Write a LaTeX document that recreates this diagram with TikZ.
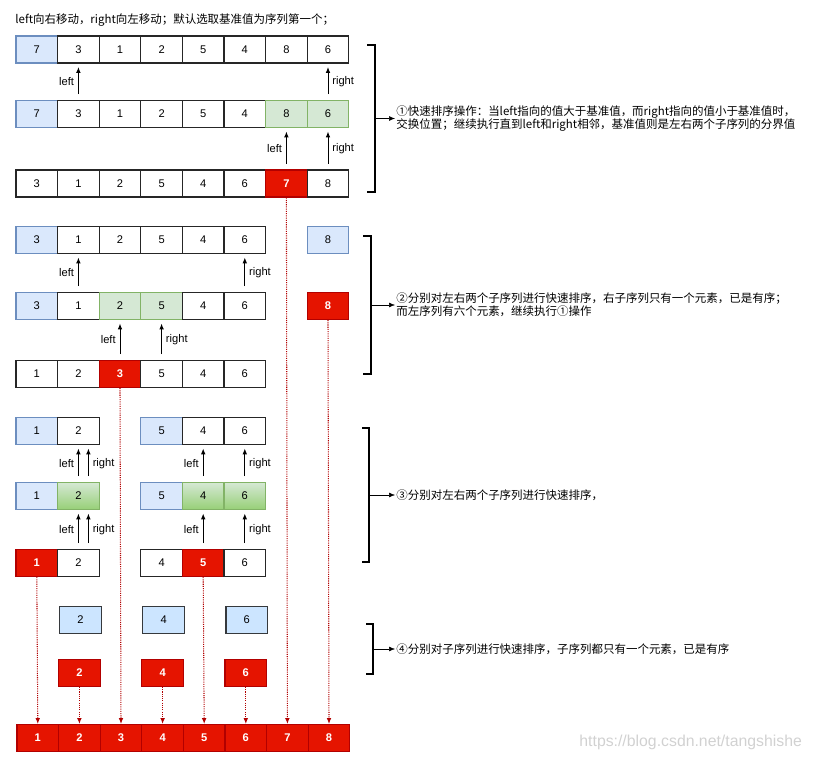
\documentclass[tikz,border=0pt]{standalone}
\usepackage{fontspec}
\usetikzlibrary{arrows.meta}
\setmainfont{Liberation Sans}
\newfontfamily\cjk{Noto Sans CJK SC}
\definecolor{pivotfill}{HTML}{DAE8FC}
\definecolor{pivotline}{HTML}{6C8EBF}
\definecolor{swapfill}{HTML}{D5E8D4}
\definecolor{swapline}{HTML}{82B366}
\definecolor{swapdark}{HTML}{97D077}
\definecolor{donefill}{HTML}{E51400}
\definecolor{doneline}{HTML}{B20000}
\definecolor{leaffill}{HTML}{CCE5FF}
\definecolor{leafline}{HTML}{36393D}
\tikzset{
  cell/.style={draw=black!85, line width=0.9pt, minimum width=1.248cm, minimum height=0.81cm, inner sep=0pt, font=\fontsize{9.5}{11}\selectfont},
  pivot/.style={cell, draw=pivotline, fill=pivotfill},
  swapc/.style={cell, draw=swapline, fill=swapfill},
  swapg/.style={cell, draw=swapline, top color=swapfill, bottom color=swapdark},
  done/.style={cell, draw=doneline, fill=donefill, text=white, font=\fontsize{9.5}{11}\selectfont\bfseries},
  leaf/.style={cell, draw=leafline, fill=leaffill},
  ptr/.style={->, line width=0.8pt, shorten <=5pt, shorten >=3pt},
  fall/.style={->, doneline, densely dotted, line width=0.9pt},
  brace/.style={line width=1pt},
  note/.style={anchor=west, inner sep=1pt, align=left, font=\cjk\fontsize{9.8}{11}\selectfont},
  lbl/.style={font=\fontsize{9.5}{11}\selectfont}
}
\begin{document}
\begin{tikzpicture}[>={Latex[length=5pt,width=4pt]}, x=0.03cm, y=-0.03cm]
\useasboundingbox (0,0) rectangle (815,760);
\node[note] (title) at (14,20) {left向右移动，right向左移动；默认选取基准值为序列第一个；};

% step 1: whole sequence
\foreach \v/\s [count=\i] in {7/pivot,3/cell,1/cell,2/cell,5/cell,4/cell,8/cell,6/cell}
  \node[\s] (a\i) at (41.6*\i-4.8,49.5) {\v};
\foreach \v/\s [count=\i] in {7/pivot,3/cell,1/cell,2/cell,5/cell,4/cell,8/swapc,6/swapc}
  \node[\s] (b\i) at (41.6*\i-4.8,114) {\v};
\foreach \v/\s [count=\i] in {3/cell,1/cell,2/cell,5/cell,4/cell,6/cell,7/done,8/cell}
  \node[\s] (c\i) at (41.6*\i-4.8,183.5) {\v};
\draw[ptr] (b2.north) -- (a2.south) node[midway,left,lbl]{left};
\draw[ptr] (b8.north) -- (a8.south) node[midway,right,lbl]{right};
\draw[ptr] (c7.north) -- (b7.south) node[midway,left,lbl]{left};
\draw[ptr] (c8.north) -- (b8.south) node[midway,right,lbl]{right};

% step 2: two sub-sequences
\foreach \i/\v/\s in {1/3/pivot,2/1/cell,3/2/cell,4/5/cell,5/4/cell,6/6/cell,8/8/pivot}
  \node[\s] (d\i) at (41.6*\i-4.8,240) {\v};
\foreach \i/\v/\s in {1/3/pivot,2/1/cell,3/2/swapc,4/5/swapc,5/4/cell,6/6/cell,8/8/done}
  \node[\s] (e\i) at (41.6*\i-4.8,306) {\v};
\foreach \v/\s [count=\i] in {1/cell,2/cell,3/done,5/cell,4/cell,6/cell}
  \node[\s] (f\i) at (41.6*\i-4.8,374) {\v};
\draw[ptr] (e2.north) -- (d2.south) node[midway,left,lbl]{left};
\draw[ptr] (e6.north) -- (d6.south) node[midway,right,lbl]{right};
\draw[ptr] (f3.north) -- (e3.south) node[midway,left,lbl]{left};
\draw[ptr] (f4.north) -- (e4.south) node[midway,right,lbl]{right};

% step 3
\foreach \i/\v/\s in {1/1/pivot,2/2/cell,4/5/pivot,5/4/cell,6/6/cell}
  \node[\s] (g\i) at (41.6*\i-4.8,431) {\v};
\foreach \i/\v/\s in {1/1/pivot,2/2/swapg,4/5/pivot,5/4/swapg,6/6/swapg}
  \node[\s] (h\i) at (41.6*\i-4.8,496) {\v};
\foreach \i/\v/\s in {1/1/done,2/2/cell,4/4/cell,5/5/done,6/6/cell}
  \node[\s] (k\i) at (41.6*\i-4.8,563) {\v};
\draw[ptr] (h2.north) -- (g2.south) node[midway,left,lbl]{left};
\draw[ptr] ([xshift=0.3cm]h2.north) -- ([xshift=0.3cm]g2.south) node[midway,right,lbl]{right};
\draw[ptr] (h5.north) -- (g5.south) node[midway,left,lbl]{left};
\draw[ptr] (h6.north) -- (g6.south) node[midway,right,lbl]{right};
\draw[ptr] (k2.north) -- (h2.south) node[midway,left,lbl]{left};
\draw[ptr] ([xshift=0.3cm]k2.north) -- ([xshift=0.3cm]h2.south) node[midway,right,lbl]{right};
\draw[ptr] (k5.north) -- (h5.south) node[midway,left,lbl]{left};
\draw[ptr] (k6.north) -- (h6.south) node[midway,right,lbl]{right};

% step 4: single elements
\foreach \i/\v in {2/2,4/4,6/6}
{
  \node[leaf] (m\i) at (41.6*\i-2.8,620) {\v};
  \node[done] (n\i) at (41.6*\i-3.8,673) {\v};
}

% sorted result
\foreach \i in {1,...,8}
  \node[done] (z\i) at (41.6*\i-3.8,738) {\i};
\draw[fall] (k1.south) -- (z1.north);
\draw[fall] (n2.south) -- (z2.north);
\draw[fall] (f3.south) -- (z3.north);
\draw[fall] (n4.south) -- (z4.north);
\draw[fall] (k5.south) -- (z5.north);
\draw[fall] (n6.south) -- (z6.north);
\draw[fall] (c7.south) -- (z7.north);
\draw[fall] (e8.south) -- (z8.north);

% brackets and notes
\draw[brace] (367,45) -| (375,192) -- (367,192);
\coordinate (br1) at (375,118.5);
\node[note] (t1) at (395,118.5) {①快速排序操作：当left指向的值大于基准值，而right指向的值小于基准值时，\\交换位置；继续执行直到left和right相邻，基准值则是左右两个子序列的分界值};
\draw[->] (br1) -- (t1.west);

\draw[brace] (363,236) -| (371,374) -- (363,374);
\coordinate (br2) at (371,305);
\node[note] (t2) at (395,305) {②分别对左右两个子序列进行快速排序，右子序列只有一个元素，已是有序；\\而左序列有六个元素，继续执行①操作};
\draw[->] (br2) -- (t2.west);

\draw[brace] (362,428) -| (369,562) -- (362,562);
\coordinate (br3) at (369,495);
\node[note] (t3) at (395,495) {③分别对左右两个子序列进行快速排序，};
\draw[->] (br3) -- (t3.west);

\draw[brace] (366,624) -| (373,674) -- (366,674);
\coordinate (br4) at (373,649);
\node[note] (t4) at (395,649) {④分别对子序列进行快速排序，子序列都只有一个元素，已是有序};
\draw[->] (br4) -- (t4.west);

\node[anchor=east, text=black!18, font=\fontsize{13.5}{15}\selectfont] (mark) at (806,742) {https://blog.csdn.net/tangshishe};
\end{tikzpicture}
\end{document}
